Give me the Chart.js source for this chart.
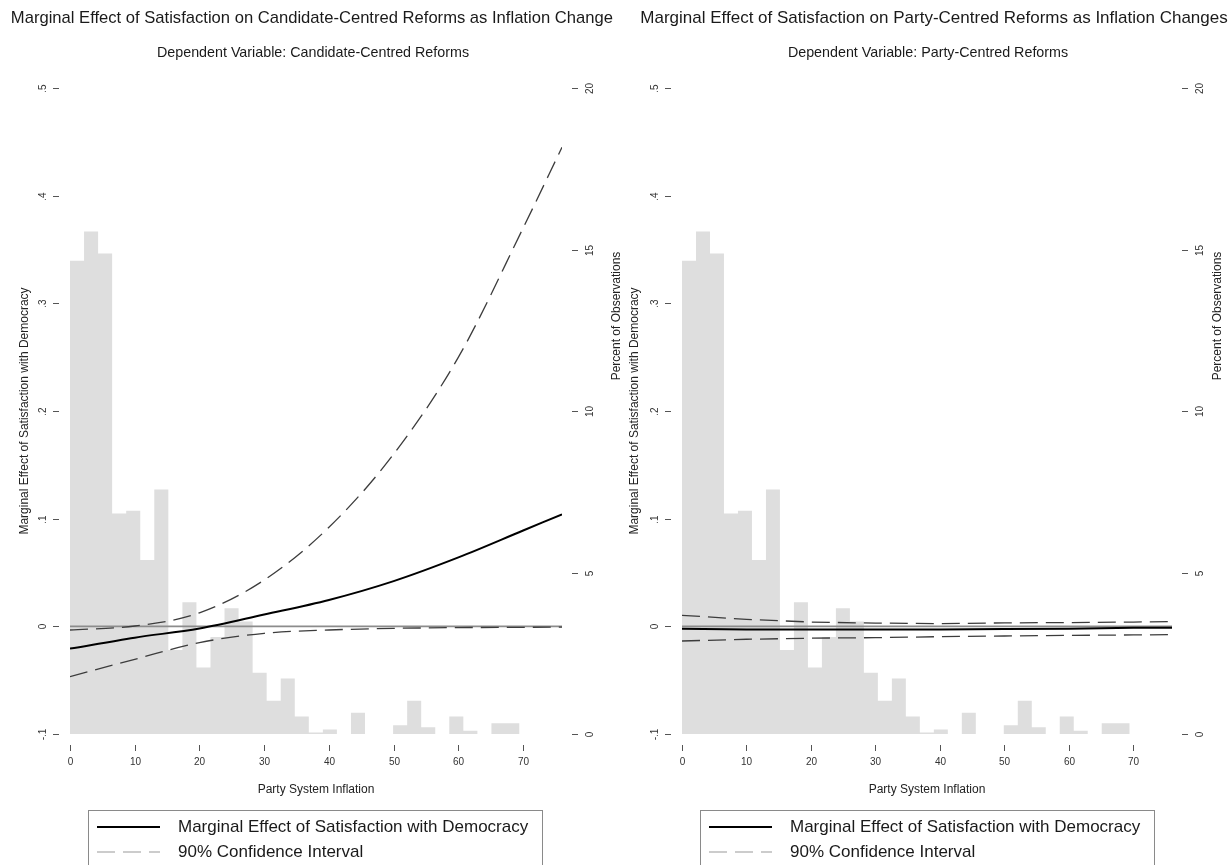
<!DOCTYPE html>
<html>
<head>
<meta charset="utf-8">
<script src="https://cdn.jsdelivr.net/npm/chart.js@4.4.1/dist/chart.umd.min.js"></script>
<style>
  html, body { margin: 0; padding: 0; background: #fff; }
  #wrap { position: relative; width: 1230px; height: 865px; overflow: hidden; }
  canvas { position: absolute; top: 0; }
  #cand { left: 0; }
  #party { left: 615px; }
</style>
</head>
<body>
<div id="wrap">
  <canvas id="cand" width="640" height="865"></canvas>
  <canvas id="party" width="615" height="865"></canvas>
</div>
<script>
// Party system inflation values at which the marginal effects are evaluated
const inflationGrid = [0, 10, 20, 30, 40, 50, 60, 70, 76];

// Candidate-centred reforms: marginal effect and 90% confidence bounds
const candidateEffect = [-0.0207, -0.0105, -0.0020, 0.0110, 0.0245, 0.0420, 0.0640, 0.0890, 0.1040];
const candidateUpper  = [-0.0034, 0.0003, 0.0125, 0.0430, 0.0920, 0.1600, 0.2500, 0.3700, 0.4450];
const candidateLower  = [-0.0467, -0.0306, -0.0151, -0.0065, -0.0034, -0.0019, -0.0012, -0.0009, -0.0008];

// Party-centred reforms: marginal effect and 90% confidence bounds
const partyEffect = [-0.0022, -0.0030, -0.0030, -0.0030, -0.0030, -0.0025, -0.0022, -0.0013, -0.0012];
const partyUpper  = [0.0102, 0.0065, 0.0040, 0.0030, 0.0025, 0.0032, 0.0035, 0.0040, 0.0044];
const partyLower  = [-0.0136, -0.0120, -0.0110, -0.0105, -0.0096, -0.0090, -0.0084, -0.0080, -0.0077];

// Histogram of party system inflation (percent of observations per bin)
const histEdges = [0, 2.17, 4.34, 6.51, 8.68, 10.85, 13.02, 15.19, 17.36, 19.53, 21.7, 23.87,
  26.04, 28.21, 30.38, 32.55, 34.72, 36.89, 39.06, 41.23, 43.4, 45.57, 47.74, 49.91,
  52.08, 54.25, 56.42, 58.59, 60.76, 62.93, 65.1, 67.27, 69.44];
const histPercent = [14.65, 15.56, 14.88, 6.83, 6.91, 5.39, 7.57, 2.60, 4.08, 2.06, 3.00, 3.89,
  3.48, 1.90, 1.03, 1.72, 0.54, 0.05, 0.14, 0, 0.66, 0, 0, 0.27,
  1.03, 0.21, 0, 0.54, 0.10, 0, 0.33, 0.33];

// Axis ticks
const inflationTicks = [0, 10, 20, 30, 40, 50, 60, 70];
const effectTicks = [-0.1, 0, 0.1, 0.2, 0.3, 0.4, 0.5];
const effectTickLabels = ['-.1', '0', '.1', '.2', '.3', '.4', '.5'];
const percentTicks = [0, 5, 10, 15, 20];
const zeroLineX = [0, 76];

const legendLabels = ['Marginal Effect of Satisfaction with Democracy', '90% Confidence Interval'];

const FONT = '"Liberation Sans", Arial, Helvetica, sans-serif';

function pts(xs, ys) { return xs.map((x, i) => ({ x: x, y: ys[i] })); }

// Each bin is a point at its left edge; the last bin is closed at the final edge
function histPoints() {
  const p = histPercent.map((v, i) => ({ x: histEdges[i], y: v }));
  p.push({ x: histEdges[histEdges.length - 1], y: histPercent[histPercent.length - 1] });
  return p;
}

// Draws R-style tick marks, titles and the boxed legend around the plot area
const decorPlugin = {
  id: 'panelDecor',
  afterDraw(chart, args, o) {
    const ctx = chart.ctx, a = chart.chartArea;
    const sx = chart.scales.x, sy = chart.scales.y, sy2 = chart.scales.y2;
    ctx.save();

    // main title and subtitle
    ctx.save();
    ctx.beginPath(); ctx.rect(0, 0, o.titleClip, 70); ctx.clip();
    ctx.fillStyle = '#1a1a1a';
    ctx.textAlign = 'center'; ctx.textBaseline = 'middle';
    ctx.font = o.titleSize + 'px ' + FONT;
    ctx.fillText(o.title, o.titleX, 18);
    ctx.restore();
    ctx.fillStyle = '#1a1a1a';
    ctx.textAlign = 'center'; ctx.textBaseline = 'middle';
    ctx.font = '14.3px ' + FONT;
    ctx.fillText(o.subtitle, o.subtitleX, 53);

    ctx.strokeStyle = '#555';
    ctx.lineWidth = 1;
    ctx.fillStyle = '#333';
    ctx.font = '10px ' + FONT;

    // left axis (marginal effect)
    effectTicks.forEach((v, i) => {
      const py = Math.round(sy.getPixelForValue(v)) + 0.5;
      ctx.beginPath(); ctx.moveTo(a.left - 17, py); ctx.lineTo(a.left - 11, py); ctx.stroke();
      ctx.save();
      ctx.translate(a.left - 27, py); ctx.rotate(-Math.PI / 2);
      ctx.textAlign = 'center'; ctx.textBaseline = 'middle';
      ctx.fillText(effectTickLabels[i], 0, 0);
      ctx.restore();
    });

    // right axis (percent of observations)
    percentTicks.forEach(v => {
      const py = Math.round(sy2.getPixelForValue(v)) + 0.5;
      ctx.beginPath(); ctx.moveTo(a.right + 10, py); ctx.lineTo(a.right + 16, py); ctx.stroke();
      ctx.save();
      ctx.translate(a.right + 28, py); ctx.rotate(-Math.PI / 2);
      ctx.textAlign = 'center'; ctx.textBaseline = 'middle';
      ctx.fillText(String(v), 0, 0);
      ctx.restore();
    });

    // bottom axis (party system inflation)
    inflationTicks.forEach(v => {
      const px = Math.round(sx.getPixelForValue(v)) + 0.5;
      ctx.beginPath(); ctx.moveTo(px, 745); ctx.lineTo(px, 751); ctx.stroke();
      ctx.textAlign = 'center'; ctx.textBaseline = 'middle';
      ctx.fillText(String(v), px, 762);
    });

    // axis titles
    ctx.fillStyle = '#222';
    ctx.font = '12px ' + FONT;
    ctx.textAlign = 'center'; ctx.textBaseline = 'middle';
    ctx.fillText('Party System Inflation', (a.left + a.right) / 2, 790);
    ctx.save();
    ctx.translate(o.leftTitleX, (a.top + a.bottom) / 2); ctx.rotate(-Math.PI / 2);
    ctx.fillText('Marginal Effect of Satisfaction with Democracy', 0, 0);
    ctx.restore();
    ctx.save();
    ctx.translate(o.rightTitleX, 316); ctx.rotate(-Math.PI / 2);
    ctx.fillText('Percent of Observations', 0, 0);
    ctx.restore();

    // legend box
    const lx = o.legendX;
    ctx.strokeStyle = '#8a8a8a';
    ctx.lineWidth = 1;
    ctx.strokeRect(lx + 0.5, 810.5, 454, 80);
    ctx.strokeStyle = '#000';
    ctx.lineWidth = 1.8;
    ctx.beginPath(); ctx.moveTo(lx + 9, 827); ctx.lineTo(lx + 72, 827); ctx.stroke();
    ctx.strokeStyle = '#9a9a9a';
    ctx.lineWidth = 1.2;
    ctx.setLineDash([18, 8]);
    ctx.beginPath(); ctx.moveTo(lx + 9, 852); ctx.lineTo(lx + 72, 852); ctx.stroke();
    ctx.setLineDash([]);
    ctx.fillStyle = '#1a1a1a';
    ctx.font = '17px ' + FONT;
    ctx.textAlign = 'left'; ctx.textBaseline = 'middle';
    ctx.fillText(legendLabels[0], lx + 90, 827);
    ctx.fillText(legendLabels[1], lx + 90, 852);

    ctx.restore();
  }
};

function makePanel(id, effect, upper, lower, smooth, deco, pad) {
  const curve = smooth ? { cubicInterpolationMode: 'monotone' } : { tension: 0 };
  return new Chart(document.getElementById(id), {
    type: 'line',
    data: {
      datasets: [
        Object.assign({
          label: legendLabels[0], data: pts(inflationGrid, effect),
          borderColor: '#000', borderWidth: 2, pointRadius: 0, order: 1
        }, curve),
        Object.assign({
          label: legendLabels[1], data: pts(inflationGrid, upper),
          borderColor: '#3c3c3c', borderWidth: 1.3, borderDash: [18, 8], pointRadius: 0, order: 2
        }, curve),
        Object.assign({
          label: 'lower', data: pts(inflationGrid, lower),
          borderColor: '#3c3c3c', borderWidth: 1.3, borderDash: [18, 8], pointRadius: 0, order: 3
        }, curve),
        {
          label: 'zero', data: pts(zeroLineX, [0, 0]),
          borderColor: '#8c8c8c', borderWidth: 1.6, pointRadius: 0, order: 4
        },
        {
          label: 'hist', data: histPoints(), yAxisID: 'y2',
          stepped: 'before', fill: 'start', backgroundColor: '#dedede',
          borderColor: 'rgba(0,0,0,0)', borderWidth: 1, pointRadius: 0, order: 5
        }
      ]
    },
    options: {
      responsive: false,
      animation: false,
      devicePixelRatio: 1,
      layout: { padding: pad },
      scales: {
        x: { type: 'linear', min: 0, max: 76, display: false },
        y: { type: 'linear', min: -0.1, max: 0.5, display: false },
        y2: { type: 'linear', min: 0, max: 20, display: false }
      },
      plugins: {
        legend: { display: false },
        tooltip: { enabled: false },
        panelDecor: deco
      }
    },
    plugins: [decorPlugin]
  });
}

makePanel('cand', candidateEffect, candidateUpper, candidateLower, true, {
  title: 'Marginal Effect of Satisfaction on Candidate-Centred Reforms as Inflation Changes',
  subtitle: 'Dependent Variable: Candidate-Centred Reforms',
  titleSize: 16.6, titleX: 316, titleClip: 613, subtitleX: 313,
  leftTitleX: 25, rightTitleX: 617, legendX: 88
}, { left: 70, right: 78, top: 88, bottom: 131 });

makePanel('party', partyEffect, partyUpper, partyLower, false, {
  title: 'Marginal Effect of Satisfaction on Party-Centred Reforms as Inflation Changes',
  subtitle: 'Dependent Variable: Party-Centred Reforms',
  titleSize: 17, titleX: 319, titleClip: 615, subtitleX: 313,
  leftTitleX: 20, rightTitleX: 603, legendX: 85
}, { left: 67, right: 58, top: 88, bottom: 131 });
</script>
</body>
</html>
